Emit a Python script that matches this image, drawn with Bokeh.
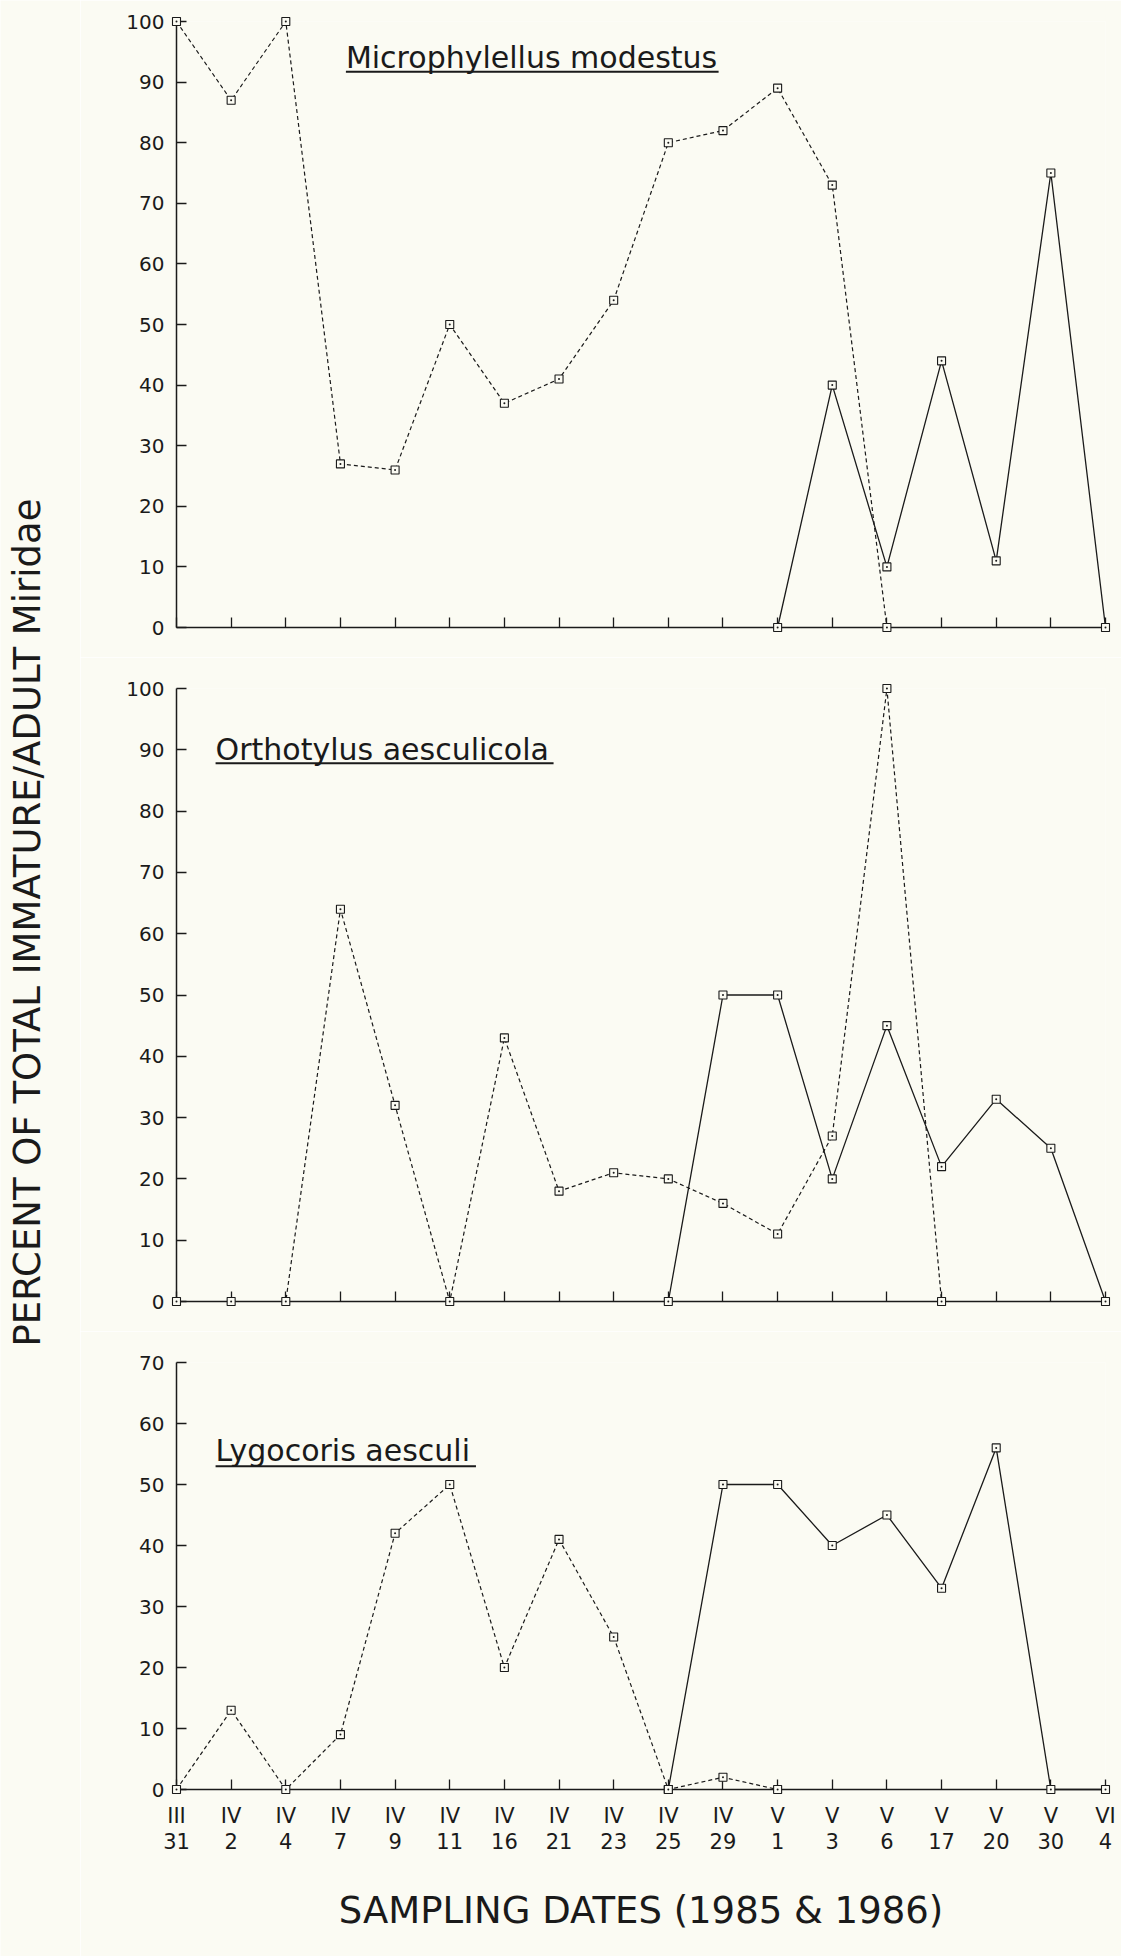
import math
from bokeh.plotting import figure
from bokeh.layouts import row, column
from bokeh.models import Range1d, FixedTicker, Label, BoxAnnotation
from bokeh.embed import file_html
from bokeh.resources import INLINE

# ---------------- data ----------------
months = ["III", "IV", "IV", "IV", "IV", "IV", "IV", "IV", "IV", "IV", "IV",
          "V", "V", "V", "V", "V", "V", "VI"]
days = ["31", "2", "4", "7", "9", "11", "16", "21", "23", "25", "29",
        "1", "3", "6", "17", "20", "30", "4"]

# Microphylellus modestus
mm_dash_x = [0, 1, 2, 3, 4, 5, 6, 7, 8, 9, 10, 11, 12, 13]
mm_dash_y = [100, 87, 100, 27, 26, 50, 37, 41, 54, 80, 82, 89, 73, 0]
mm_solid_x = [11, 12, 13, 14, 15, 16, 17]
mm_solid_y = [0, 40, 10, 44, 11, 75, 0]

# Orthotylus aesculicola
oa_dash_x = [0, 1, 2, 3, 4, 5, 6, 7, 8, 9, 10, 11, 12, 13, 14]
oa_dash_y = [0, 0, 0, 64, 32, 0, 43, 18, 21, 20, 16, 11, 27, 100, 0]
oa_solid_x = [9, 10, 11, 12, 13, 14, 15, 16, 17]
oa_solid_y = [0, 50, 50, 20, 45, 22, 33, 25, 0]

# Lygocoris aesculi
la_dash_x = [0, 1, 2, 3, 4, 5, 6, 7, 8, 9, 10, 11]
la_dash_y = [0, 13, 0, 9, 42, 50, 20, 41, 25, 0, 2, 0]
la_solid_x = [9, 10, 11, 12, 13, 14, 15, 16, 17]
la_solid_y = [0, 50, 50, 40, 45, 33, 56, 0, 0]

ticks_100 = [0, 10, 20, 30, 40, 50, 60, 70, 80, 90, 100]
ticks_70 = [0, 10, 20, 30, 40, 50, 60, 70]

# ---------------- style ----------------
BG = "#fbfbf3"
INK = "#1a1a1a"
FONT = "DejaVu Sans"
N = len(months)
SIDE_W = 80
PANEL_W = 1041
B_LEFT = 96
B_RIGHT = 16


def make_panel(ymax, yticks, height, b_top, b_bottom, labels):
    p = figure(width=PANEL_W, height=height,
               x_range=Range1d(0, N - 1),
               y_range=Range1d(0, ymax),
               toolbar_location=None, output_backend="svg",
               min_border_left=B_LEFT, min_border_right=B_RIGHT,
               min_border_top=b_top, min_border_bottom=b_bottom,
               background_fill_color=BG, border_fill_color=BG,
               outline_line_color=None)
    p.grid.visible = False
    xa = p.xaxis[0]
    ya = p.yaxis[0]
    xa.ticker = FixedTicker(ticks=list(range(N)))
    ya.ticker = FixedTicker(ticks=yticks)
    for ax in (xa, ya):
        ax.axis_line_color = INK
        ax.axis_line_width = 1.5
        ax.major_tick_line_color = INK
        ax.major_tick_line_width = 1.3
        ax.major_tick_in = 10
        ax.major_tick_out = 0
        ax.minor_tick_line_color = None
        ax.major_label_text_font = FONT
        ax.major_label_text_font_size = "20px"
        ax.major_label_text_color = INK
    ya.major_label_standoff = 12
    if labels:
        xa.major_label_overrides = {i: months[i] + "\n" + days[i] for i in range(N)}
        xa.major_label_standoff = 14
        xa.major_label_text_font_size = "21px"
        xa.major_label_text_line_height = 1.1
        xa.axis_label = "SAMPLING DATES (1985 & 1986)"
        xa.axis_label_text_font = FONT
        xa.axis_label_text_font_size = "37px"
        xa.axis_label_text_font_style = "normal"
        xa.axis_label_text_color = INK
        xa.axis_label_standoff = 32
    else:
        xa.major_label_overrides = {i: "" for i in range(N)}
    return p


def add_series(p, dx, dy, sx, sy):
    p.line(dx, dy, line_color=INK, line_width=1.2, line_dash="4 3", level="overlay")
    p.line(sx, sy, line_color=INK, line_width=1.3, level="overlay")
    p.scatter(dx, dy, marker="square_dot", size=8, line_color=INK,
              fill_color=BG, line_width=1.1, level="overlay")
    p.scatter(sx, sy, marker="square_dot", size=8, line_color=INK,
              fill_color=BG, line_width=1.1, level="overlay")


def add_title(p, text, x, y_mid, right, y_under, ppu):
    p.add_layout(Label(x=x, y=y_mid, text=text, text_font=FONT,
                       text_font_size="30px", text_color=INK,
                       text_baseline="middle", text_align="left"))
    p.add_layout(BoxAnnotation(left=x, right=right,
                               top=y_under + 1.0 / ppu,
                               bottom=y_under - 1.0 / ppu,
                               fill_color=INK, fill_alpha=1.0,
                               line_alpha=0))


p1 = make_panel(100, ticks_100, 657, 21, 30, False)
add_series(p1, mm_dash_x, mm_dash_y, mm_solid_x, mm_solid_y)
add_title(p1, "Microphylellus modestus", 3.10, 94.0, 9.92, 91.7, 6.06)

p2 = make_panel(100, ticks_100, 674, 31, 30, False)
add_series(p2, oa_dash_x, oa_dash_y, oa_solid_x, oa_solid_y)
add_title(p2, "Orthotylus aesculicola", 0.715, 90.1, 6.90, 87.8, 6.13)

p3 = make_panel(70, ticks_70, 625, 31, 167, True)
add_series(p3, la_dash_x, la_dash_y, la_solid_x, la_solid_y)
add_title(p3, "Lygocoris aesculi", 0.715, 55.6, 5.48, 53.0, 6.1)

total_h = 657 + 674 + 625
side = figure(width=SIDE_W, height=total_h, x_range=Range1d(0, 1),
              y_range=Range1d(0, 1), toolbar_location=None,
              output_backend="svg", min_border=0,
              background_fill_color=BG, border_fill_color=BG,
              outline_line_color=None)
side.axis.visible = False
side.grid.visible = False
side.add_layout(Label(x=0.34, y=1 - 922 / total_h,
                      text="PERCENT OF TOTAL IMMATURE/ADULT Miridae",
                      angle=math.pi / 2, text_font=FONT, text_font_size="37px",
                      text_color=INK, text_align="center", text_baseline="middle"))

layout = row(side, column(p1, p2, p3, spacing=0), spacing=0)

open("out.html", "w").write(file_html(layout, INLINE))
